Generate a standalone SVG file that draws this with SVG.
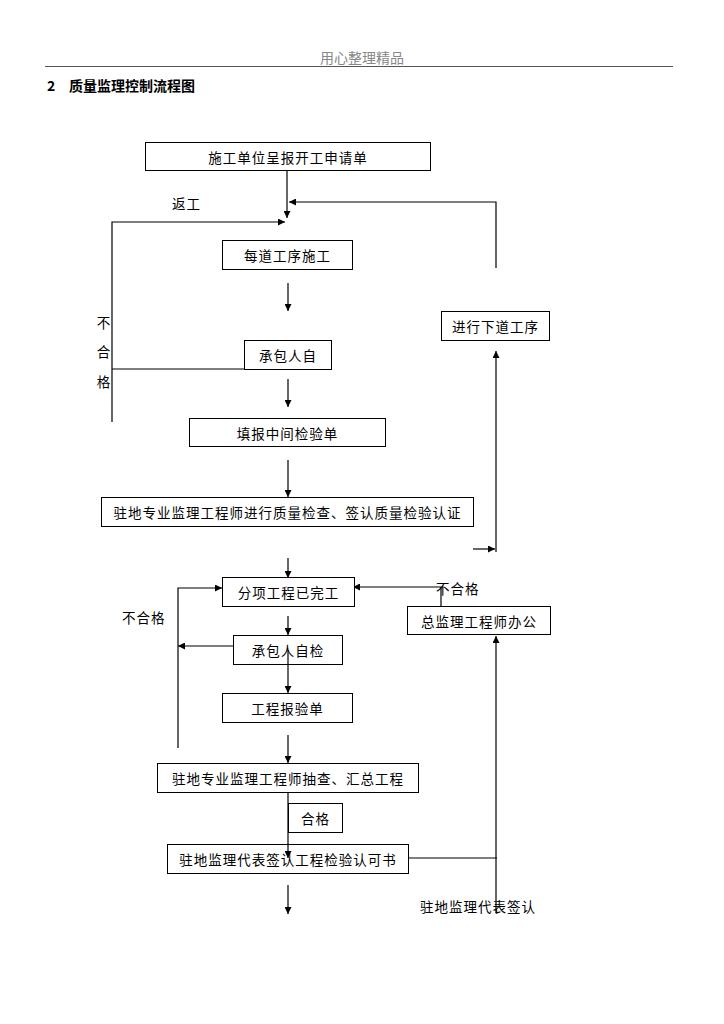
<svg xmlns="http://www.w3.org/2000/svg" width="724" height="1024" viewBox="0 0 724 1024">
<defs>
<marker id="ah" viewBox="0 0 10 10" refX="10" refY="5" markerWidth="8" markerHeight="7" markerUnits="userSpaceOnUse" orient="auto">
<path d="M0,0 L10,5 L0,10 z" fill="#000"/>
</marker>
<style>
text{font-family:"Noto Sans CJK SC","Liberation Sans",sans-serif;fill:#000}
.t{font-size:13.5px;letter-spacing:1px;text-anchor:middle;dominant-baseline:central}
.l{font-size:13.5px;letter-spacing:1px;dominant-baseline:central}
.box{fill:#fff;stroke:#000;stroke-width:1}
.c{fill:none;stroke:#000;stroke-width:1.2}
.a{marker-end:url(#ah)}
</style>
</defs>
<rect width="724" height="1024" fill="#fff"/>
<g id="header">
<text x="362" y="57" style="font-size:14px;fill:#888;text-anchor:middle;dominant-baseline:central">用心整理精品</text>
<line x1="45" y1="66.5" x2="673" y2="66.5" stroke="#555" stroke-width="1"/>
<text x="47" y="85" style="font-size:14px;font-weight:bold;dominant-baseline:central">2</text>
<text x="69" y="85" style="font-size:14px;font-weight:bold;dominant-baseline:central">质量监理控制流程图</text>
</g>
<g id="connectors">
<line class="c a" x1="287" y1="170" x2="287" y2="218"/>
<polyline class="c a" points="496,268 496,202 289,202"/>
<polyline class="c a" points="112,422 112,222 285,222"/>
<line class="c a" x1="288" y1="283" x2="288" y2="311"/>
<line class="c" x1="112" y1="369" x2="244" y2="369" stroke="#444"/>
<line class="c a" x1="288" y1="379" x2="288" y2="407"/>
<line class="c a" x1="288" y1="460" x2="288" y2="497"/>
<line class="c a" x1="496" y1="552" x2="496" y2="351"/>
<line class="c a" x1="473" y1="549" x2="495" y2="549"/>
<line class="c a" x1="288" y1="558" x2="288" y2="578"/>
<polyline class="c a" points="178,748 178,588 222,588"/>
<polyline class="c a" points="441,606 441,587 353,587"/>
<line class="c a" x1="288" y1="616" x2="288" y2="635"/>
<line class="c a" x1="233" y1="646" x2="178" y2="646"/>
<line class="c a" x1="288" y1="650" x2="288" y2="693"/>
<line class="c a" x1="288" y1="735" x2="288" y2="763"/>
<line class="c a" x1="288" y1="792" x2="288" y2="858"/>
<line class="c" x1="408" y1="858" x2="497" y2="858"/>
<line class="c a" x1="496" y1="913" x2="496" y2="636"/>
<line class="c a" x1="288" y1="885" x2="288" y2="914"/>
</g>
<g id="labels">
<text class="l" x="172" y="203">返工</text>
<text class="t" x="104" y="322">不</text>
<text class="t" x="104" y="351">合</text>
<text class="t" x="104" y="381">格</text>
<text class="l" x="122" y="617">不合格</text>
<text class="l" x="436" y="588">不合格</text>
<text class="l" x="420" y="906">驻地监理代表签认</text>
</g>
<g id="n1"><rect class="box" x="145.5" y="142.5" width="285" height="28"/><text class="t" x="288" y="156.5">施工单位呈报开工申请单</text></g>
<g id="n2"><rect class="box" x="222.5" y="240.5" width="130" height="29"/><text class="t" x="287.5" y="255">每道工序施工</text></g>
<g id="n3"><rect class="box" x="244.5" y="340.5" width="87" height="29"/><text class="t" x="288" y="355">承包人自</text></g>
<g id="n4"><rect class="box" x="189.5" y="418.5" width="196" height="28"/><text class="t" x="287.5" y="432.5">填报中间检验单</text></g>
<g id="n5"><rect class="box" x="101.5" y="497.5" width="372" height="29"/><text class="t" x="287.5" y="512">驻地专业监理工程师进行质量检查、签认质量检验认证</text></g>
<g id="n6"><rect class="box" x="441.5" y="311.5" width="108" height="29"/><text class="t" x="495.5" y="326">进行下道工序</text></g>
<g id="n7"><rect class="box" x="222.5" y="577.5" width="132" height="29"/><text class="t" x="288.5" y="592">分项工程已完工</text></g>
<g id="n8"><rect class="box" x="407.5" y="606.5" width="143" height="28"/><text class="t" x="479" y="620.5">总监理工程师办公</text></g>
<g id="n9"><rect class="box" x="233.5" y="635.5" width="109" height="29" fill-opacity="0"/><text class="t" x="288" y="650">承包人自检</text></g>
<g id="n10"><rect class="box" x="222.5" y="693.5" width="130" height="29"/><text class="t" x="287.5" y="708">工程报验单</text></g>
<g id="n11"><rect class="box" x="157.5" y="763.5" width="261" height="29"/><text class="t" x="288" y="778">驻地专业监理工程师抽查、汇总工程</text></g>
<g id="n12"><rect class="box" x="288.5" y="803.5" width="54" height="29" style="fill:none"/><text class="t" x="315.5" y="817.5">合格</text></g>
<g id="n13"><rect class="box" x="167.5" y="844.5" width="241" height="29" style="fill:none"/><text class="t" x="288" y="859">驻地监理代表签认工程检验认可书</text></g>
</svg>
